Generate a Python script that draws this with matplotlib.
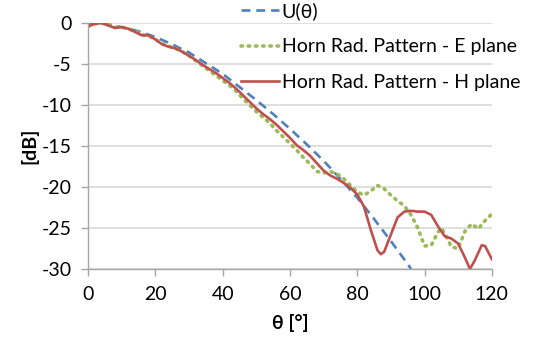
import matplotlib
matplotlib.use("Agg")
import matplotlib.pyplot as plt

plt.rcParams['font.family'] = ['Lato', 'DejaVu Sans']
plt.rcParams['axes.unicode_minus'] = False

# U(theta) - reference pattern
theta_u = [0, 5, 10, 15, 20, 25, 30, 35, 40, 45, 50, 55, 60, 65, 70, 75, 80, 85, 90, 95, 96]
u_db = [0.0, -0.1, -0.5, -1.0, -1.7, -2.6, -3.6, -4.9, -6.2, -7.8, -9.4, -11.1, -12.9,
        -14.8, -16.8, -19.0, -21.3, -23.9, -26.6, -29.4, -30.0]

# horn measured pattern, E plane
theta_e = [0, 2, 4, 6, 8, 10, 12, 14, 16, 18, 20, 22, 24, 26, 28, 30, 32, 34, 36, 38, 40,
           42, 44, 46, 48, 50, 52, 54, 56, 58, 60, 62, 64, 66, 68, 70, 72, 74, 76, 78, 80,
           82, 84, 86, 88, 90, 92, 94, 96, 98, 100, 102, 104, 105, 106, 108, 110, 112,
           114, 116, 118, 120]
e_db = [-0.4, -0.1, 0.0, -0.2, -0.5, -0.5, -0.7, -1.0, -1.4, -1.6, -2.0, -2.5, -2.8, -3.1,
        -3.5, -4.0, -4.6, -5.2, -5.8, -6.4, -7.0, -7.6, -8.3, -9.2, -10.0, -10.8, -11.5,
        -12.2, -13.1, -13.9, -14.7, -15.5, -16.4, -17.2, -18.1, -18.3, -18.1, -18.4, -19.0,
        -19.8, -20.6, -21.0, -20.5, -19.8, -20.2, -21.0, -21.7, -22.3, -23.4, -25.0, -27.2,
        -27.1, -25.5, -25.0, -25.7, -27.3, -27.5, -25.4, -24.5, -25.1, -24.1, -23.3]

# horn measured pattern, H plane
theta_h = [0, 2, 4, 6, 8, 10, 12, 14, 16, 18, 20, 22, 24, 26, 28, 30, 32, 34, 36, 38, 40,
           42, 44, 46, 48, 50, 52, 54, 56, 58, 60, 62, 64, 66, 68, 70, 72, 74, 76, 78, 80,
           82, 84, 86, 87, 88, 90, 92, 94, 96, 98, 100, 102, 104, 106, 108, 110, 112, 113.5,
           115, 117, 118, 120]
h_db = [-0.4, -0.1, 0.0, -0.3, -0.6, -0.5, -0.7, -1.1, -1.5, -1.5, -2.0, -2.6, -2.9, -3.1,
        -3.5, -4.0, -4.5, -5.1, -5.6, -6.1, -6.7, -7.3, -8.0, -8.8, -9.6, -10.4, -11.1,
        -11.7, -12.4, -13.2, -14.0, -14.9, -15.5, -16.2, -17.1, -18.0, -18.6, -19.0, -19.5,
        -20.1, -20.9, -22.4, -25.2, -27.7, -28.2, -27.9, -25.8, -23.7, -23.0, -22.9, -23.0,
        -23.0, -23.4, -24.8, -26.0, -26.3, -26.9, -28.6, -30.0, -28.9, -27.1, -27.2, -28.8]

fig = plt.figure(figsize=(5.34, 3.39), dpi=100)
ax = fig.add_axes([0.165, 0.2065, 0.756, 0.7255])

ax.plot(theta_u, u_db, color='#4F81BD', lw=1.9, ls=(0, (3.4, 2.2)), label='U(θ)')
ax.plot(theta_e, e_db, color='#9BBB59', lw=2.6, ls=(0, (0.4, 1.6)),
        dash_capstyle='round', label='Horn Rad. Pattern - E plane')
ax.plot(theta_h, h_db, color='#C0504D', lw=1.9, label='Horn Rad. Pattern - H plane')

ax.set_xlim(0, 120)
ax.set_ylim(-30, 0)
ax.set_xticks(range(0, 121, 20))
ax.set_yticks(range(-30, 1, 5))
ax.grid(axis='y', color='#D9D9D9', lw=1.2)
ax.set_axisbelow(True)
for s in ['top', 'right']:
    ax.spines[s].set_visible(False)
for s in ['left', 'bottom']:
    ax.spines[s].set_color('#A6A6A6')
    ax.spines[s].set_linewidth(1.0)
ax.tick_params(axis='both', colors='#A6A6A6', length=5, width=1.0, labelsize=14,
               labelcolor='black', pad=7)

ax.set_xlabel('θ [°]', fontsize=14, fontweight='bold', labelpad=8)
ax.set_ylabel('[dB]', fontsize=14, fontweight='bold', labelpad=2)

ax.legend(loc='upper left', bbox_to_anchor=(0.452, 0.994), bbox_transform=fig.transFigure,
          frameon=False, fontsize=14, handlelength=1.95, handletextpad=0.12,
          labelspacing=0.95, borderpad=0.0, borderaxespad=0.0)

fig.savefig('out.png', dpi=100)
